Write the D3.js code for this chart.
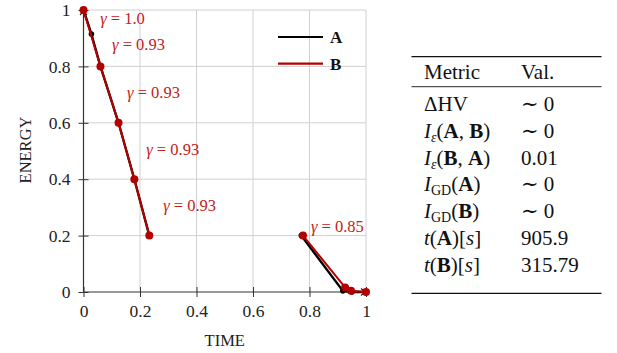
<!DOCTYPE html>
<html>
<head>
<meta charset="utf-8">
<script src="https://cdn.jsdelivr.net/npm/d3@7"></script>
<style>
  html, body { margin: 0; padding: 0; background: #fff; overflow: hidden; }
  svg { display: block; }
  svg text, svg tspan { font-family: "Liberation Serif", "DejaVu Serif", serif !important; }
  .grid line { stroke: #d0d0d0; stroke-width: 1; }
  .axis path { display: none; }
  .axis line { stroke: #333; }
</style>
</head>
<body>
<svg width="617" height="353"></svg>
<script>
// data: each front is a list of segments of [time, energy]
const frontA = [
    [[0, 1], [0.028, 0.915], [0.06, 0.8], [0.124, 0.6], [0.18, 0.4], [0.233, 0.2]],
    [[0.771, 0.2], [0.918, 0.004], [0.95, 0], [1, 0]]
];
const frontB = [
    [[0, 1], [0.06, 0.8], [0.124, 0.6], [0.18, 0.4], [0.233, 0.2]],
    [[0.777, 0.2], [0.926, 0.016], [0.947, 0.004], [1, 0]]
];
const seriesNames = ['A', 'B'];
const seriesColors = ['#000000', '#b50000'];

const gammaValues = ['1.0', '0.93', '0.93', '0.93', '0.93', '0.85'];
const gammaAt = [[0.059, 0.972], [0.101, 0.879], [0.154, 0.709], [0.222, 0.507], [0.282, 0.309], [0.805, 0.234]];

const xTicks = [0, 0.2, 0.4, 0.6, 0.8, 1];
const yTicks = [0, 0.2, 0.4, 0.6, 0.8, 1];

// table: label pieces [text, kind]  (i = italic, b = bold, sub = subscript)
const metricNames = [
    [['ΔHV', '']],
    [['I', 'i'], ['ε', 'subi'], ['(', ''], ['A', 'b'], [', ', ''], ['B', 'b'], [')', '']],
    [['I', 'i'], ['ε', 'subi'], ['(', ''], ['B', 'b'], [', ', ''], ['A', 'b'], [')', '']],
    [['I', 'i'], ['GD', 'sub'], ['(', ''], ['A', 'b'], [')', '']],
    [['I', 'i'], ['GD', 'sub'], ['(', ''], ['B', 'b'], [')', '']],
    [['t', 'i'], ['(', ''], ['A', 'b'], [')[', ''], ['s', 'i'], [']', '']],
    [['t', 'i'], ['(', ''], ['B', 'b'], [')[', ''], ['s', 'i'], [']', '']]
];
const metricValues = ['∼ 0', '∼ 0', '0.01', '∼ 0', '∼ 0', '905.9', '315.79'];

const serif = '"Liberation Serif", serif';

const svg = d3.select('svg').style('font-family', serif);
const width = +svg.attr('width');
const height = +svg.attr('height');

const margin = {top: 10, right: 251, bottom: 61, left: 83.5};
const innerWidth = width - margin.left - margin.right;
const innerHeight = height - margin.top - margin.bottom;

const xScale = d3.scaleLinear().domain([0, 1]).range([0, innerWidth]);
const yScale = d3.scaleLinear().domain([0, 1]).range([innerHeight, 0]);

const g = svg.append('g')
    .attr('transform', `translate(${margin.left}, ${margin.top})`);

// grid
const grid = g.append('g').attr('class', 'grid');
grid.selectAll('.gx').data(xTicks.slice(1)).enter().append('line')
    .attr('x1', d => xScale(d)).attr('x2', d => xScale(d))
    .attr('y1', 0).attr('y2', innerHeight);
grid.selectAll('.gy').data(yTicks.slice(1)).enter().append('line')
    .attr('x1', 0).attr('x2', innerWidth)
    .attr('y1', d => yScale(d)).attr('y2', d => yScale(d));

// axes
const xAxisG = g.append('g').attr('class', 'axis')
    .call(d3.axisBottom(xScale).tickValues(xTicks).tickFormat(d3.format('~g')).tickSize(5).tickPadding(8))
    .attr('transform', `translate(0, ${innerHeight})`)
    .attr('font-family', null);
xAxisG.selectAll('.tick').append('line').attr('y2', -5);
xAxisG.selectAll('text').attr('font-size', 17.5).attr('fill', '#222').style('font-family', serif);

const yAxisG = g.append('g').attr('class', 'axis')
    .call(d3.axisLeft(yScale).tickValues(yTicks).tickFormat(d3.format('~g')).tickSize(5).tickPadding(8))
    .attr('font-family', null);
yAxisG.selectAll('.tick').append('line').attr('x2', 5);
yAxisG.selectAll('text').attr('font-size', 17.5).attr('fill', '#222').style('font-family', serif);

// axis lines with arrow heads
svg.append('defs').append('marker')
    .attr('id', 'arrow')
    .attr('viewBox', '-6 -5 8 10')
    .attr('refX', 0).attr('refY', 0)
    .attr('markerWidth', 8).attr('markerHeight', 10)
    .attr('markerUnits', 'userSpaceOnUse')
    .attr('orient', 'auto')
    .append('path')
    .attr('d', 'M-5,-3.5 Q-2,-0.5 0,0 Q-2,0.5 -5,3.5')
    .attr('fill', 'none').attr('stroke', '#222').attr('stroke-width', 1.1);

g.append('line')
    .attr('x1', xScale(0)).attr('y1', yScale(0))
    .attr('x2', xScale(1)).attr('y2', yScale(0))
    .attr('stroke', '#333').attr('stroke-width', 1.2)
    .attr('marker-end', 'url(#arrow)');
g.append('line')
    .attr('x1', xScale(0)).attr('y1', yScale(0))
    .attr('x2', xScale(0)).attr('y2', yScale(1))
    .attr('stroke', '#333').attr('stroke-width', 1.2)
    .attr('marker-end', 'url(#arrow)');

// axis titles
g.append('text')
    .attr('x', innerWidth / 2).attr('y', innerHeight + 54)
    .attr('text-anchor', 'middle').attr('font-size', 16.5).attr('fill', '#222')
    .style('font-family', serif)
    .text('TIME');
g.append('text')
    .attr('transform', `translate(${31 - margin.left}, ${150 - margin.top}) rotate(-90)`)
    .attr('text-anchor', 'middle').attr('font-size', 16.5).attr('fill', '#222')
    .style('font-family', serif)
    .text('ENERGY');

// series
const line = d3.line().x(d => xScale(d[0])).y(d => yScale(d[1]));
const drawFront = (segments, color, lw, r) => {
    const s = g.append('g');
    s.selectAll('path').data(segments).enter().append('path')
        .attr('d', line)
        .attr('fill', 'none').attr('stroke', color).attr('stroke-width', lw)
        .attr('stroke-linejoin', 'round');
    s.selectAll('circle').data(segments.flat()).enter().append('circle')
        .attr('cx', d => xScale(d[0])).attr('cy', d => yScale(d[1]))
        .attr('r', r).attr('fill', color);
};
drawFront(frontA, seriesColors[0], 2.4, 2.8);
drawFront(frontB, seriesColors[1], 2, 4);

// gamma annotations
gammaValues.forEach((v, i) => {
    const t = g.append('text')
        .attr('x', xScale(gammaAt[i][0])).attr('y', yScale(gammaAt[i][1]))
        .attr('dy', '0.35em')
        .attr('font-size', 16.5).attr('fill', '#c42020')
        .style('font-family', serif);
    t.append('tspan').attr('font-style', 'italic').text('γ');
    t.append('tspan').text(' = ' + v);
});

// legend
const legend = svg.append('g').attr('transform', 'translate(278, 37)');
seriesNames.forEach((name, i) => {
    const row = legend.append('g').attr('transform', `translate(0, ${i * 26.6})`);
    row.append('line').attr('x1', 0).attr('x2', 45)
        .attr('stroke', seriesColors[i]).attr('stroke-width', 2.2);
    row.append('text').attr('x', 52).attr('dy', '0.35em')
        .attr('font-size', 17).attr('font-weight', 'bold').attr('fill', '#111')
        .style('font-family', serif)
        .text(name);
});

// table
const table = svg.append('g');
const tableLeft = 411.5, tableRight = 601.5;
const col1 = 424, col2 = 521;
const fs = 21;
table.append('line').attr('x1', tableLeft).attr('x2', tableRight)
    .attr('y1', 56.7).attr('y2', 56.7).attr('stroke', '#111').attr('stroke-width', 1.3);
table.append('line').attr('x1', tableLeft).attr('x2', tableRight)
    .attr('y1', 86.7).attr('y2', 86.7).attr('stroke', '#111').attr('stroke-width', 0.9);
table.append('line').attr('x1', tableLeft).attr('x2', tableRight)
    .attr('y1', 293.3).attr('y2', 293.3).attr('stroke', '#111').attr('stroke-width', 1.3);

table.append('text').attr('x', col1).attr('y', 79).attr('font-size', fs).attr('fill', '#111')
    .style('font-family', serif).text('Metric');
table.append('text').attr('x', col2).attr('y', 79).attr('font-size', fs).attr('fill', '#111')
    .style('font-family', serif).text('Val.');

const rowY = i => 111 + i * 26.8;
metricNames.forEach((parts, i) => {
    const t = table.append('text').attr('x', col1).attr('y', rowY(i))
        .attr('font-size', fs).attr('fill', '#111')
        .style('font-family', serif);
    let shifted = false;
    parts.forEach(([txt, kind]) => {
        const sp = t.append('tspan').text(txt);
        if (kind === 'i') sp.attr('font-style', 'italic');
        if (kind === 'b') sp.attr('font-weight', 'bold');
        if (kind === 'sub' || kind === 'subi') {
            sp.attr('font-size', 14).attr('dy', 4);
            if (kind === 'subi') sp.attr('font-style', 'italic');
            shifted = true;
        } else if (shifted) {
            sp.attr('dy', -4);
            shifted = false;
        }
    });
    table.append('text').attr('x', col2).attr('y', rowY(i))
        .attr('font-size', fs).attr('fill', '#111')
        .style('font-family', serif)
        .text(metricValues[i]);
});
</script>
</body>
</html>
